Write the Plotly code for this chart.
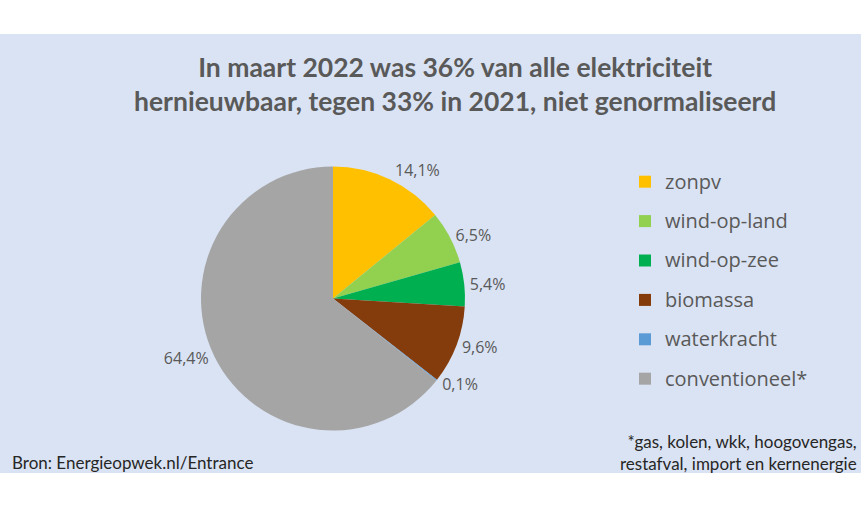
import plotly.graph_objects as go

categories = ["zonpv", "wind-op-land", "wind-op-zee", "biomassa", "waterkracht", "conventioneel*"]
values = [14.1, 6.5, 5.4, 9.6, 0.1, 64.4]
colors = ["#FFC000", "#92D050", "#00B050", "#843C0C", "#5B9BD5", "#A5A5A5"]

title_lines = ["In maart 2022 was 36% van alle elektriciteit",
               "hernieuwbaar, tegen 33% in 2021, niet genormaliseerd"]
source_text = "Bron: Energieopwek.nl/Entrance"
footnote_lines = ["*gas, kolen, wkk, hoogovengas,", "restafval, import en kernenergie"]

W, H = 861, 508
TXT = "#595959"

legend_labels = [f'<span style="font-size:20px;baseline-shift:4px">{c}</span>' for c in categories]

fig = go.Figure()
fig.add_trace(go.Pie(
    labels=legend_labels,
    values=values,
    marker=dict(colors=colors, line=dict(width=0)),
    sort=False,
    direction="clockwise",
    rotation=0,
    textposition="outside",
    texttemplate="%{value:.1f}%",
    textfont=dict(family="Open Sans", size=16, color=TXT),
    domain=dict(x=[201 / W, 465 / W], y=[1 - 431 / H, 1 - 166 / H]),
    hoverinfo="label+value",
))

fig.add_shape(type="rect", xref="paper", yref="paper", x0=0, x1=1,
              y0=1 - 473 / H, y1=1 - 34 / H, fillcolor="#DAE3F3",
              line=dict(width=0), layer="below")

fig.add_annotation(text="<br>".join(title_lines), xref="paper", yref="paper",
                   x=455 / W, y=1 - 84 / H, xanchor="center", yanchor="middle",
                   showarrow=False, align="center",
                   font=dict(family="Lato", size=26.5, color=TXT, weight="bold"))
fig.add_annotation(text=source_text, xref="paper", yref="paper",
                   x=10 / W, y=1 - 462 / H, xanchor="left", yanchor="middle",
                   showarrow=False, font=dict(family="Lato", size=17, color="#262626"))
fig.add_annotation(text="<br>".join(footnote_lines), xref="paper", yref="paper",
                   x=859 / W, y=1 - 452 / H, xanchor="right", yanchor="middle",
                   showarrow=False, align="right",
                   font=dict(family="Lato", size=17, color="#262626"))

fig.update_layout(
    width=W, height=H,
    margin=dict(l=0, r=0, t=0, b=0),
    paper_bgcolor="white",
    plot_bgcolor="white",
    separators=",.",
    showlegend=True,
    legend=dict(x=625 / W, y=1 - 157 / H, xanchor="left", yanchor="top",
                bgcolor="rgba(0,0,0,0)", font=dict(family="Open Sans", size=28, color=TXT),
                itemclick=False),
)

fig.write_html("out.html", config={"displayModeBar": False},
               post_script="document.body.style.margin='0px';")
